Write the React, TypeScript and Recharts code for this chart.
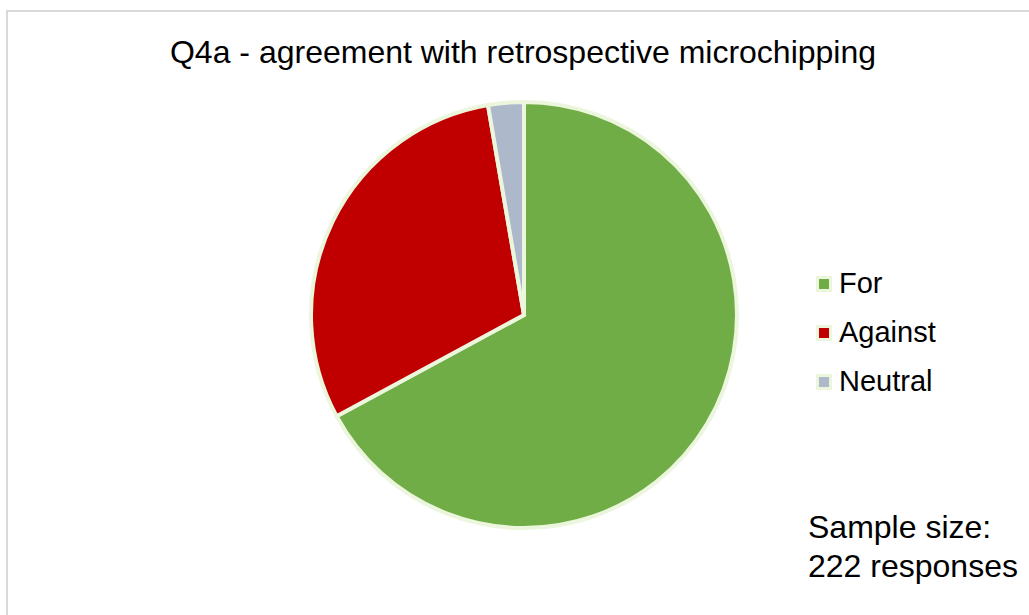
import React from 'react';
import { Cell, Legend, Pie, PieChart } from 'recharts';

// Responses to Q4a (222 in total)
const categories = ['For', 'Against', 'Neutral'];
const responses = [149, 67, 6];
const sliceColors = ['#70AD47', '#C00000', '#ADB9CA'];
const sampleLines = ['Sample size:', '222 responses'];

const chartData = categories.map((name, i) => ({ name, value: responses[i] }));

const FONT = '"Liberation Sans", Arial, sans-serif';
const EDGE = '#EBF6DD';

function LegendList() {
  return (
    <div style={{ fontFamily: FONT, fontSize: 29, color: '#000' }}>
      {categories.map((name, i) => (
        <div
          key={name}
          style={{ display: 'flex', alignItems: 'center', height: 49 }}
        >
          <span
            style={{
              width: 10,
              height: 10,
              background: sliceColors[i],
              border: `3px solid ${EDGE}`,
              marginRight: 7,
            }}
          />
          <span>{name}</span>
        </div>
      ))}
    </div>
  );
}

export default function App() {
  return (
    <div
      style={{
        position: 'absolute',
        left: 0,
        top: 0,
        width: 1029,
        height: 615,
        background: '#fff',
        overflow: 'hidden',
      }}
    >
      <div
        style={{
          position: 'absolute',
          left: 6,
          top: 10,
          width: 1040,
          height: 640,
          border: '2px solid #D9D9D9',
        }}
      />
      <div
        style={{
          position: 'absolute',
          left: 0,
          top: 34,
          width: 1046,
          textAlign: 'center',
          fontFamily: FONT,
          fontSize: 32,
          lineHeight: '36px',
        }}
      >
        Q4a - agreement with retrospective microchipping
      </div>
      <PieChart width={1029} height={615} style={{ position: 'absolute', left: 0, top: 0 }}>
        <Pie
          data={chartData}
          dataKey="value"
          nameKey="name"
          cx={519}
          cy={310}
          outerRadius={213}
          startAngle={90}
          endAngle={-270}
          stroke={EDGE}
          strokeWidth={4}
          isAnimationActive={false}
        >
          {chartData.map((d, i) => (
            <Cell key={d.name} fill={sliceColors[i]} />
          ))}
        </Pie>
        <Legend
          layout="vertical"
          align="right"
          verticalAlign="top"
          content={() => <LegendList />}
          wrapperStyle={{ left: 816, top: 259, width: 200 }}
        />
      </PieChart>
      <div
        style={{
          position: 'absolute',
          left: 808,
          top: 508,
          fontFamily: FONT,
          fontSize: 32,
          lineHeight: '39px',
        }}
      >
        {sampleLines.map((line) => (
          <div key={line}>{line}</div>
        ))}
      </div>
    </div>
  );
}
